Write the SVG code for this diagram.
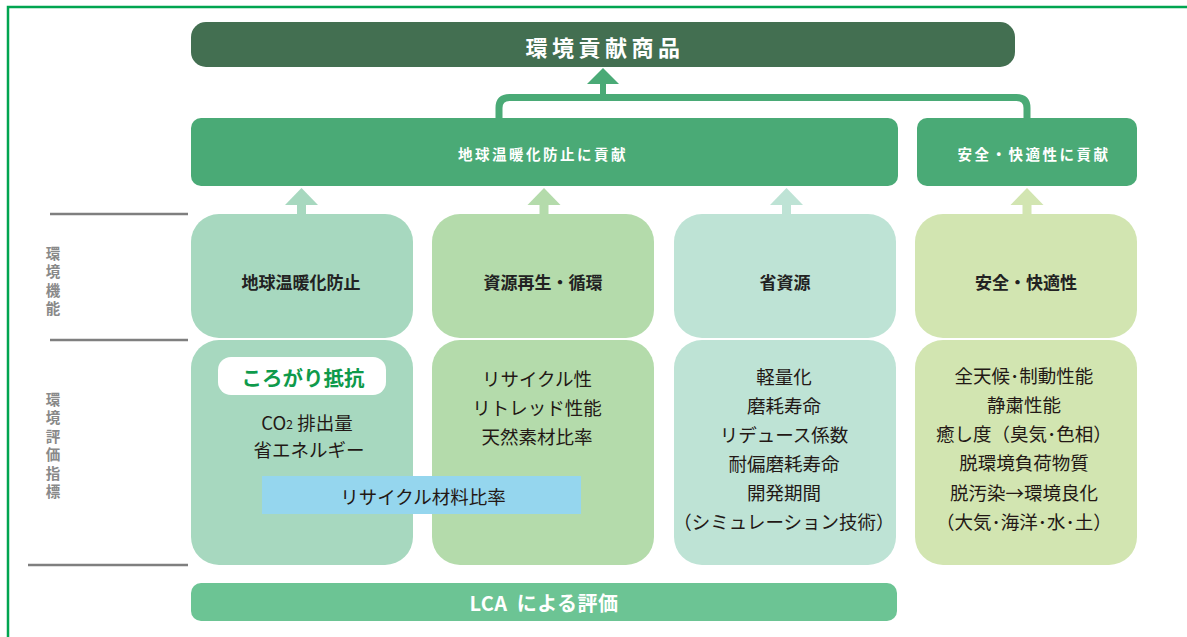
<svg xmlns="http://www.w3.org/2000/svg" width="1187" height="637" viewBox="0 0 1187 637">
<style>
text{font-family:"Noto Sans CJK JP","Noto Sans",sans-serif;}
.t{font-weight:bold;fill:#fff;text-anchor:middle;dominant-baseline:central;}
.h{font-size:14.5px;letter-spacing:2.5px;}
.lab{font-size:17px;font-weight:bold;fill:#222;text-anchor:middle;dominant-baseline:central;}
.b{font-size:18.5px;fill:#231815;text-anchor:middle;dominant-baseline:central;}
.v{font-size:14.5px;font-weight:bold;fill:#898989;writing-mode:vertical-rl;letter-spacing:4px;}
.rule{stroke:#7f7f7f;stroke-width:2.5;}
</style>
<rect width="1187" height="637" fill="#fff"/>
<path d="M8,637 V7 H1187" fill="none" stroke="#00a550" stroke-width="2.5"/>

<g id="side-labels">
<line class="rule" x1="50" y1="214" x2="188" y2="214"/>
<line class="rule" x1="50" y1="340" x2="188" y2="340"/>
<line class="rule" x1="28" y1="565" x2="188" y2="565"/>
<text class="v" x="53" y="245.75">環境機能</text>
<text class="v" x="53" y="391.75">環境評価指標</text>
</g>

<g id="connectors">
<path d="M499,118 V108 Q499,97.5 509.5,97.5 H1016.5 Q1027,97.5 1027,108 V118" fill="none" stroke="#4aaa76" stroke-width="7"/>
<rect x="600" y="82" width="6" height="16" fill="#4aaa76"/>
<polygon points="603,68 619,84 587,84" fill="#4aaa76"/>
<rect x="297" y="203" width="9" height="12" fill="#a7d8bf"/>
<polygon points="301.5,188 318,205 285,205" fill="#a7d8bf"/>
<rect x="539.5" y="203" width="9" height="12" fill="#b4dbab"/>
<polygon points="544,188 560.5,205 527.5,205" fill="#b4dbab"/>
<rect x="782" y="203" width="9" height="12" fill="#bee3d5"/>
<polygon points="786.5,188 803,205 770,205" fill="#bee3d5"/>
<rect x="1022.5" y="203" width="9" height="12" fill="#d2e5b1"/>
<polygon points="1027,188 1043.5,205 1010.5,205" fill="#d2e5b1"/>
</g>

<g id="title">
<rect x="191" y="22" width="824" height="45" rx="15" fill="#436f51"/>
<text class="t" x="605" y="46" style="font-size:22px;letter-spacing:4.5px">環境貢献商品</text>
</g>

<g id="global-warming-contribution">
<rect x="191" y="118" width="707" height="68" rx="10" fill="#4aaa76"/>
<text class="t h" x="543" y="153">地球温暖化防止に貢献</text>
</g>

<g id="safety-contribution">
<rect x="917" y="118" width="220" height="68" rx="10" fill="#4aaa76"/>
<text class="t h" x="1034" y="153">安全・快適性に貢献</text>
</g>

<g id="func-warming">
<rect x="191" y="214" width="222" height="124" rx="28" fill="#a7d8bf"/>
<text class="lab" x="301" y="281">地球温暖化防止</text>
</g>
<g id="func-recycle">
<rect x="432" y="214" width="222" height="124" rx="28" fill="#b4dbab"/>
<text class="lab" x="543" y="281">資源再生・循環</text>
</g>
<g id="func-saving">
<rect x="674" y="214" width="222" height="124" rx="28" fill="#bee3d5"/>
<text class="lab" x="785" y="281">省資源</text>
</g>
<g id="func-safety">
<rect x="915" y="214" width="222" height="124" rx="28" fill="#d2e5b1"/>
<text class="lab" x="1026" y="281">安全・快適性</text>
</g>

<g id="eval-warming">
<rect x="191" y="340" width="222" height="225" rx="28" fill="#a7d8bf"/>
<rect x="218" y="357" width="168" height="38" rx="13" fill="#fff"/>
<text x="303" y="377" style="font-size:20.5px;font-weight:bold;fill:#0e9a4b;text-anchor:middle;dominant-baseline:central">ころがり抵抗</text>
<text class="b" x="307" y="422">CO<tspan style="font-size:12px" dy="1">2</tspan><tspan dy="-1"> 排出量</tspan></text>
<text class="b" x="309" y="449">省エネルギー</text>
</g>
<g id="eval-recycle">
<rect x="432" y="340" width="222" height="225" rx="28" fill="#b4dbab"/>
<text class="b" x="537" y="378">リサイクル性</text>
<text class="b" x="537" y="407">リトレッド性能</text>
<text class="b" x="537" y="436">天然素材比率</text>
</g>
<g id="recycle-ratio">
<rect x="262" y="476" width="319" height="38" fill="#95d6ee"/>
<text class="b" x="423" y="496">リサイクル材料比率</text>
</g>
<g id="eval-saving">
<rect x="674" y="340" width="222" height="225" rx="28" fill="#bee3d5"/>
<text class="b" x="784" y="376">軽量化</text>
<text class="b" x="784" y="405">磨耗寿命</text>
<text class="b" x="784" y="434">リデュース係数</text>
<text class="b" x="784" y="463">耐偏磨耗寿命</text>
<text class="b" x="784" y="492">開発期間</text>
<text class="b" x="784" y="521">（シミュレーション技術）</text>
</g>
<g id="eval-safety">
<rect x="915" y="340" width="222" height="225" rx="28" fill="#d2e5b1"/>
<text class="b" x="1024" y="375">全天候･制動性能</text>
<text class="b" x="1024" y="404">静粛性能</text>
<text class="b" x="1024" y="433">癒し度（臭気･色相）</text>
<text class="b" x="1024" y="462">脱環境負荷物質</text>
<text class="b" x="1024" y="492">脱汚染→環境良化</text>
<text class="b" x="1024" y="521">（大気･海洋･水･土）</text>
</g>

<g id="lca">
<rect x="191" y="583" width="706" height="38" rx="10" fill="#6cc494"/>
<text class="t" x="544" y="602" style="font-size:20px;word-spacing:4px;letter-spacing:0.5px">LCA による評価</text>
</g>
</svg>
